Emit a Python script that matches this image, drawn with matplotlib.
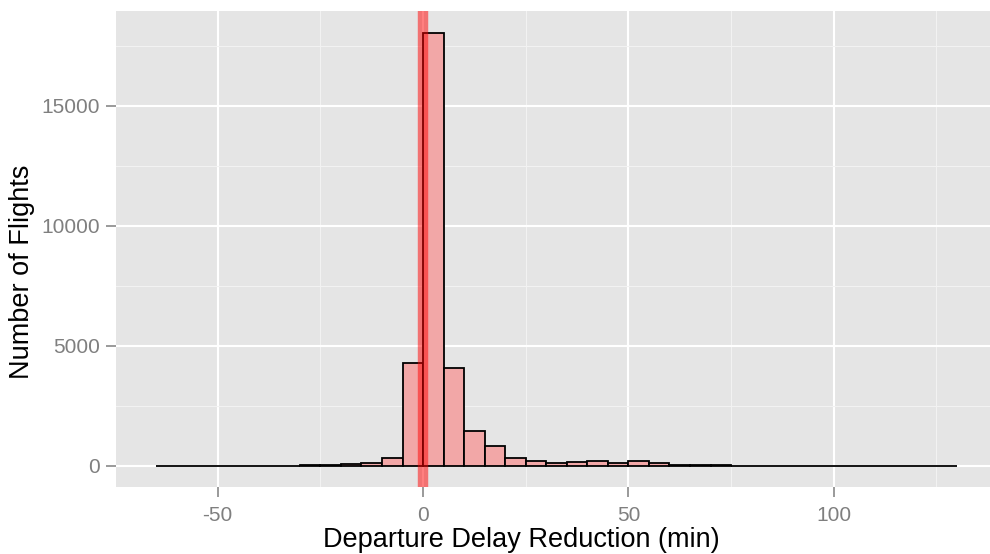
import numpy as np
import matplotlib
matplotlib.use("Agg")
import matplotlib.pyplot as plt

plt.rcParams['font.family'] = ['Liberation Sans', 'DejaVu Sans']
plt.rcParams['axes.unicode_minus'] = False

# histogram: bins of 5 minutes starting at -65
bin_width = 5
bin_lefts = np.arange(-65, 130, bin_width)
counts = [3, 3, 4, 4, 5, 5, 6, 8, 12, 50, 100, 330, 4300,
          18050, 4050, 1450, 820, 330, 200, 120, 140, 190, 120, 210, 130,
          40, 15, 10, 4, 3, 3, 2, 2, 2, 2, 2, 2, 6, 2]
ref_line = 0

fig = plt.figure(figsize=(9.9, 5.54), dpi=100)
ax = fig.add_axes([0.1172, 0.1204, 0.8899, 0.8597])
ax.set_facecolor('#E5E5E5')

ax.bar(bin_lefts, counts, width=bin_width, align='edge',
       color='#F2A7A7', edgecolor='black', linewidth=1.3, zorder=3)
ax.axvline(ref_line, color='red', alpha=0.5, linewidth=7.5, zorder=4)

ax.set_xlim(-74.75, 139.75)
ax.set_ylim(-902.5, 18952.5)

ax.set_xticks([-50, 0, 50, 100])
ax.set_xticks([-25, 25, 75, 125], minor=True)
ax.set_yticks([0, 5000, 10000, 15000])
ax.set_yticks([2500, 7500, 12500, 17500], minor=True)

ax.grid(which='major', color='white', linewidth=1.5, zorder=0)
ax.grid(which='minor', color='#F2F2F2', linewidth=0.8, zorder=0)
ax.set_axisbelow(True)

for s in ax.spines.values():
    s.set_visible(False)

ax.tick_params(which='major', length=7.5, width=1.1, color='#7F7F7F',
               labelcolor='#7F7F7F', labelsize=15)
ax.tick_params(axis='y', pad=4)
ax.tick_params(axis='x', pad=6)
ax.tick_params(which='minor', length=0)

# axis titles (placed like the original, centred on the whole figure area)
fig.text(521 / 990, 1 - 540 / 554, 'Departure Delay Reduction (min)',
         fontsize=19.5, ha='center', va='center')
fig.text(22.5 / 990, 1 - 272 / 554, 'Number of Flights',
         fontsize=19.5, rotation=90, ha='center', va='center')

fig.savefig('out.png', dpi=100)
